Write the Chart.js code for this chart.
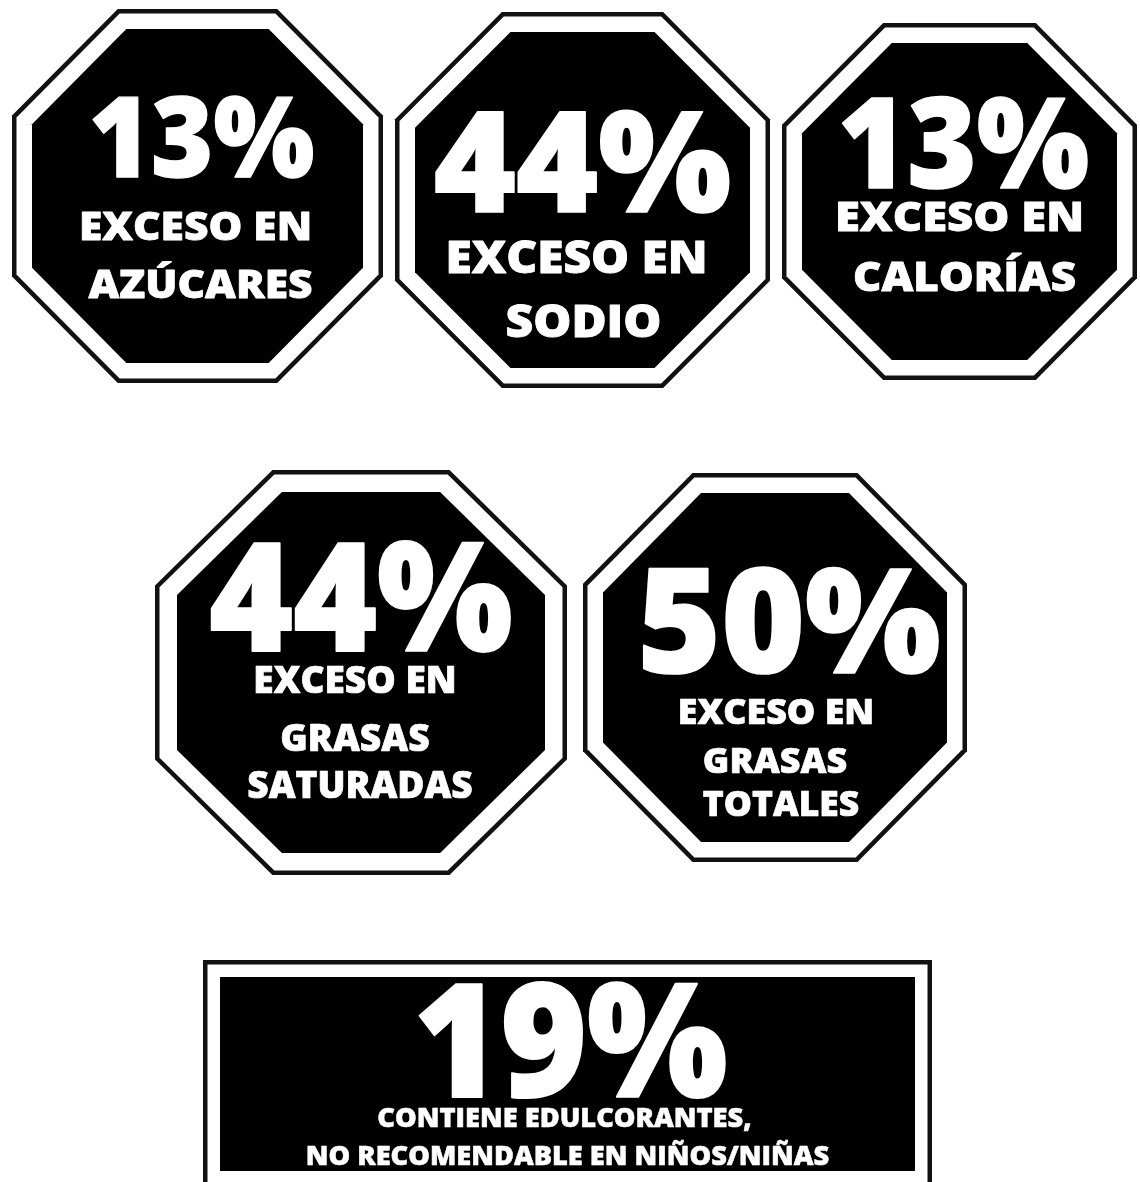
<!DOCTYPE html>
<html>
<head>
<meta charset="utf-8">
<script src="https://cdn.jsdelivr.net/npm/chart.js@4"></script>
<style>
  html, body { margin: 0; padding: 0; background: #fff; }
  #wrap { width: 1140px; height: 1182px; }
</style>
</head>
<body>
<div id="wrap"><canvas id="sellos" width="1140" height="1182"></canvas></div>
<script>
// porcentaje de productos con cada sello
var categories = [
  ['EXCESO EN', 'AZÚCARES'],
  ['EXCESO EN', 'SODIO'],
  ['EXCESO EN', 'CALORÍAS'],
  ['EXCESO EN', 'GRASAS', 'SATURADAS'],
  ['EXCESO EN', 'GRASAS', 'TOTALES'],
  ['CONTIENE EDULCORANTES,', 'NO RECOMENDABLE EN NIÑOS/NIÑAS']
];
var values = [13, 44, 13, 44, 50, 19];

// where each seal sits and how its text is set (pixels): [dx, dy, width]
var layout = [
  { cx: 197.5, cy: 196,   shape: 'oct', ax: 185.5, ay: 187,   inset: 20, pct: 112, pctPos: [4, -19, 227],  lab: 39, lines: [[-2, 44, 234], [3, 102, 225]] },
  { cx: 582.5, cy: 200,   shape: 'oct', ax: 187.5, ay: 188,   inset: 20, pct: 140, pctPos: [0, 12, 299],   lab: 44, lines: [[-6, 73, 263], [1, 137, 157]] },
  { cx: 959.5, cy: 201.5, shape: 'oct', ax: 177.5, ay: 178.5, inset: 20, pct: 126, pctPos: [4, -14, 253],  lab: 40, lines: [[0, 29, 250], [5, 89, 224]] },
  { cx: 361,   cy: 672.5, shape: 'oct', ax: 206,   ay: 202.5, inset: 22, pct: 150, pctPos: [0, -22, 305],  lab: 37, lines: [[-6, 20, 204], [-6, 78, 150], [-1, 125, 226]] },
  { cx: 775,   cy: 667.5, shape: 'oct', ax: 192,   ay: 194.5, inset: 20, pct: 145, pctPos: [14, 5, 305],   lab: 35, lines: [[1, 56, 197], [0, 105, 145], [6, 148, 157]] },
  { cx: 567.5, cy: 1074,  shape: 'rect', ax: 364.5, ay: 114,  inset: 17, pct: 157, pctPos: [3, 23, 316],   lab: 26, lines: [[-3, 53, 375], [0, 91, 524]] }
];

var CUT = 0.43;

function octPath(ctx, x, y, ax, ay) {
  var sx = ax * CUT, sy = ay * CUT;
  ctx.beginPath();
  ctx.moveTo(x - sx, y - ay);
  ctx.lineTo(x + sx, y - ay);
  ctx.lineTo(x + ax, y - sy);
  ctx.lineTo(x + ax, y + sy);
  ctx.lineTo(x + sx, y + ay);
  ctx.lineTo(x - sx, y + ay);
  ctx.lineTo(x - ax, y + sy);
  ctx.lineTo(x - ax, y - sy);
  ctx.closePath();
}

function shapePath(ctx, L, x, y, d) {
  if (L.shape === 'rect') {
    ctx.beginPath();
    ctx.rect(x - L.ax + d, y - L.ay + d, (L.ax - d) * 2, (L.ay - d) * 2);
  } else {
    octPath(ctx, x, y, L.ax - d, L.ay - d);
  }
}

// centred text stretched to the measured width, with a thin stroke for extra weight
function fitText(ctx, text, x, y, w, weight) {
  var m = ctx.measureText(text).width + weight;
  ctx.save();
  ctx.translate(x, y);
  ctx.scale(w / m, 1);
  ctx.lineWidth = weight;
  ctx.lineJoin = 'round';
  ctx.strokeText(text, 0, 0);
  ctx.fillText(text, 0, 0);
  ctx.restore();
}

var sellosPlugin = {
  id: 'sellos',
  afterDatasetsDraw: function (chart) {
    var ctx = chart.ctx;
    var meta = chart.getDatasetMeta(0);
    ctx.save();
    meta.data.forEach(function (pt, i) {
      var L = layout[i];
      var x = pt.x, y = pt.y;
      // black rim, white band, black face
      ctx.fillStyle = '#111';
      shapePath(ctx, L, x, y, 0); ctx.fill();
      ctx.fillStyle = '#fff';
      shapePath(ctx, L, x, y, 4.5); ctx.fill();
      ctx.fillStyle = '#000';
      shapePath(ctx, L, x, y, L.inset); ctx.fill();

      ctx.fillStyle = '#fff';
      ctx.strokeStyle = '#fff';
      ctx.textAlign = 'center';
      ctx.textBaseline = 'alphabetic';
      ctx.font = '800 ' + L.pct + 'px "Open Sans"';
      fitText(ctx, values[i] + '%', x + L.pctPos[0], y + L.pctPos[1], L.pctPos[2], L.pct * 0.012);
      ctx.font = '800 ' + L.lab + 'px "Open Sans"';
      categories[i].forEach(function (line, j) {
        var p = L.lines[j];
        fitText(ctx, line, x + p[0], y + p[1], p[2], L.lab * 0.02);
      });
    });
    ctx.restore();
  }
};

new Chart('sellos', {
  type: 'scatter',
  data: {
    datasets: [{
      data: values.map(function (v, i) { return { x: layout[i].cx, y: layout[i].cy }; }),
      pointRadius: 0
    }]
  },
  options: {
    responsive: false,
    animation: false,
    events: [],
    layout: { padding: 0 },
    scales: {
      x: { type: 'linear', min: 0, max: 1140, display: false },
      y: { type: 'linear', min: 0, max: 1182, reverse: true, display: false }
    },
    plugins: { legend: { display: false }, tooltip: { enabled: false } }
  },
  plugins: [sellosPlugin]
});
</script>
</body>
</html>
